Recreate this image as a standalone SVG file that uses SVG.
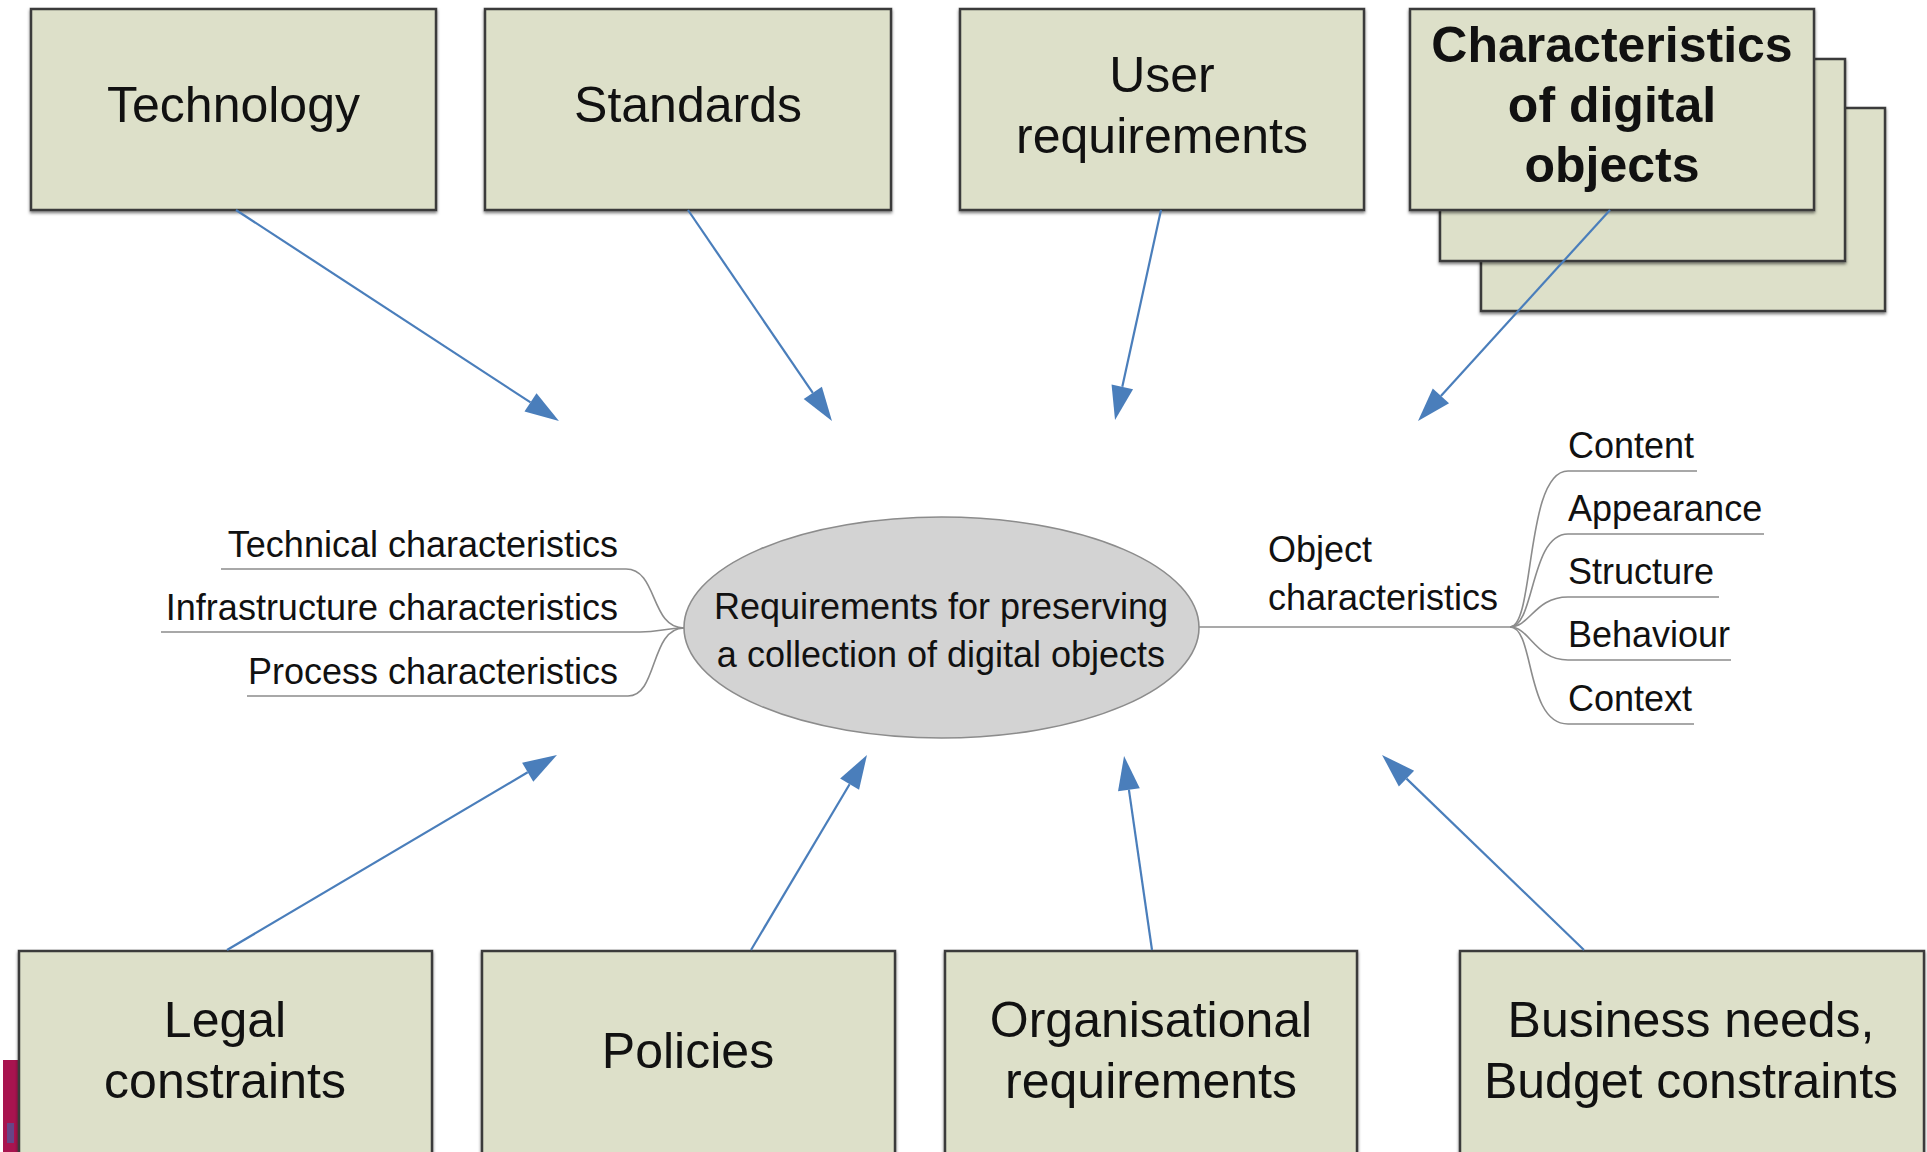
<svg xmlns="http://www.w3.org/2000/svg" width="1927" height="1152" viewBox="0 0 1927 1152">
<defs>
<style>
.box{fill:#dde0c9;stroke:#3a3a3a;stroke-width:2.5;filter:url(#sh)}
.bt{font-family:"Liberation Sans",Arial,sans-serif;font-size:50px;fill:#111;text-anchor:middle}
.bb{font-weight:bold}
.lt{font-family:"Liberation Sans",Arial,sans-serif;font-size:36px;fill:#111}
.br{fill:none;stroke:#8c8c8c;stroke-width:1.6}
.ar{fill:none;stroke:#4a7ebb;stroke-width:2.2;marker-end:url(#ah)}
</style>
<filter id="sh" x="-5%" y="-5%" width="110%" height="115%">
<feDropShadow dx="0" dy="2" stdDeviation="1.5" flood-color="#000" flood-opacity="0.5"/>
</filter>
<marker id="ah" markerUnits="userSpaceOnUse" markerWidth="36" markerHeight="24" refX="0" refY="11" orient="auto" overflow="visible">
<path d="M0,0 L34,11 L0,22 z" fill="#4a7ebb"/>
</marker>
</defs>
<rect width="1927" height="1152" fill="#fff"/>
<rect x="3" y="1060" width="16" height="92" fill="#a8144f"/>
<rect x="7" y="1123" width="7" height="20" fill="#4a5aa0" opacity="0.7"/>

<g id="technology"><rect class="box" x="31" y="9" width="405" height="201"/><text class="bt" x="233.5" y="122">Technology</text></g>
<g id="standards"><rect class="box" x="485" y="9" width="406" height="201"/><text class="bt" x="688" y="122">Standards</text></g>
<g id="user-requirements"><rect class="box" x="960" y="9" width="404" height="201"/><text class="bt" x="1162" y="92">User</text><text class="bt" x="1162" y="153">requirements</text></g>
<g id="characteristics">
<rect class="box" x="1481" y="108" width="404" height="203"/>
<rect class="box" x="1440" y="59" width="405" height="202"/>
<rect class="box" x="1410" y="9" width="404" height="201"/>
<text class="bt bb" x="1612" y="62">Characteristics</text><text class="bt bb" x="1612" y="122">of digital</text><text class="bt bb" x="1612" y="182">objects</text>
</g>

<g id="legal"><rect class="box" x="19" y="951" width="413" height="230"/><text class="bt" x="225" y="1037">Legal</text><text class="bt" x="225" y="1098">constraints</text></g>
<g id="policies"><rect class="box" x="482" y="951" width="413" height="230"/><text class="bt" x="688" y="1068">Policies</text></g>
<g id="organisational"><rect class="box" x="945" y="951" width="412" height="230"/><text class="bt" x="1151" y="1037">Organisational</text><text class="bt" x="1151" y="1098">requirements</text></g>
<g id="business"><rect class="box" x="1460" y="951" width="464" height="230"/><text class="bt" x="1691" y="1037">Business needs,</text><text class="bt" x="1691" y="1098">Budget constraints</text></g>

<g id="branches">
<path class="br" d="M221,569 H626 C658,569 650,628 684,628"/>
<path class="br" d="M161,632 H640 C660,632 665,628 684,628"/>
<path class="br" d="M247,696 H628 C658,696 650,628 684,628"/>
<path class="br" d="M1199,627 H1510"/>
<path class="br" d="M1510,627 C1535,627 1525,471 1568,471 H1697"/>
<path class="br" d="M1510,627 C1535,627 1530,534 1568,534 H1764"/>
<path class="br" d="M1510,627 C1530,627 1535,597 1568,597 H1719"/>
<path class="br" d="M1510,627 C1530,627 1535,660 1568,660 H1731"/>
<path class="br" d="M1510,627 C1535,627 1525,724 1568,724 H1694"/>
</g>

<g id="center"><ellipse cx="941.5" cy="627.5" rx="257.5" ry="110.5" fill="#d3d3d3" stroke="#8c8c8c" stroke-width="1.6"/>
<text class="lt" x="941" y="619" text-anchor="middle">Requirements for preserving</text>
<text class="lt" x="941" y="667" text-anchor="middle">a collection of digital objects</text></g>

<g id="left-labels">
<text class="lt" x="618" y="557" text-anchor="end">Technical characteristics</text>
<text class="lt" x="618" y="620" text-anchor="end">Infrastructure characteristics</text>
<text class="lt" x="618" y="684" text-anchor="end">Process characteristics</text>
</g>
<g id="object-characteristics">
<text class="lt" x="1268" y="562">Object</text>
<text class="lt" x="1268" y="610">characteristics</text>
<text class="lt" x="1568" y="458">Content</text>
<text class="lt" x="1568" y="521">Appearance</text>
<text class="lt" x="1568" y="584">Structure</text>
<text class="lt" x="1568" y="647">Behaviour</text>
<text class="lt" x="1568" y="711">Context</text>
</g>

<g id="connectors">
<path class="ar" d="M236,210 L530.5,402.4"/>
<path class="ar" d="M688,210 L812.8,392.9"/>
<path class="ar" d="M1161,210 L1122.3,386.8"/>
<path class="ar" d="M1610,210 L1440.9,395.9"/>
<path class="ar" d="M227,950 L527.7,772.3"/>
<path class="ar" d="M751,950 L849.6,784.2"/>
<path class="ar" d="M1152,950 L1128.9,789.7"/>
<path class="ar" d="M1584,950 L1406.5,778.6"/>
</g>
</svg>
